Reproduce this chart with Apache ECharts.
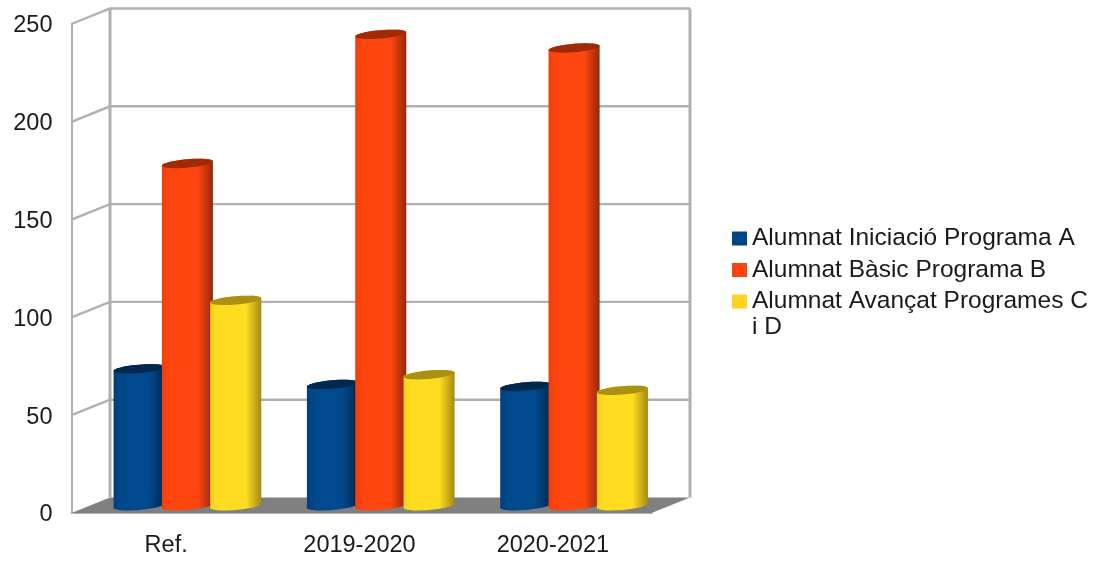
<!DOCTYPE html>
<html><head><meta charset="utf-8">
<style>html,body{margin:0;padding:0;background:#fff}#c{width:1097px;height:561px;filter:blur(.6px)}</style>
<script src="https://cdn.jsdelivr.net/npm/echarts@6/dist/echarts.min.js"></script></head>
<body><div id="c"></div>
<script>
const categories = ['Ref.', '2019-2020', '2020-2021'];
const seriesNames = ['Alumnat Iniciació Programa A', 'Alumnat Bàsic Programa B', 'Alumnat Avançat Programes C i D'];
const valuesA = [70, 62, 61];
const valuesB = [175, 241, 234];
const valuesC = [105, 67, 59];
const ticks = [0, 50, 100, 150, 200, 250];
const colors = ['#004586', '#ff420e', '#ffd320'];
const bodies = ['#00498c', '#ff460f', '#ffdc20'];
const tops = ['#00274d', '#a12a06', '#ac9012'];
const sides = ['#00274d', '#96270a', '#a58a14'];
const lefts = ['#003f7a', '#f23d0c', '#f5d21e'];

const DX = 38.5, DY = -15.5, GRAY = '#b0b0b0';
const font = '"Liberation Sans", Arial, sans-serif';

function ellipsePts(cx, cy, a, b, tilt, from, to, n) {
  const pts = [];
  for (let i = 0; i <= n; i++) {
    const t = from + (to - from) * i / n;
    const x = a * Math.cos(t), y = b * Math.sin(t);
    pts.push([cx + x * Math.cos(tilt) - y * Math.sin(tilt), cy + x * Math.sin(tilt) + y * Math.cos(tilt)]);
  }
  return pts;
}

function cylinder(idx) {
  return function (params, api) {
    const base = api.coord([api.value(0), 0]);
    const top = api.coord([api.value(0), api.value(1)]);
    const catW = api.size([1, 0])[0];
    const w = catW * 0.265, a = w / 2, b = 4.2, tilt = -0.085;
    const cx = base[0] + DX / 2 + (idx - 1) * catW * 0.25;
    const by = base[1] + DY / 2 + 0.5, ty = top[1] + DY / 2 + 0.5;
    const bottomArc = ellipsePts(cx, by, a, b, tilt, 0, Math.PI, 24);
    const topArc = ellipsePts(cx, ty, a, b, tilt, Math.PI, 2 * Math.PI, 24);
    const cap = ellipsePts(cx, ty, a, b, tilt, 0, 2 * Math.PI, 48);
    return {
      type: 'group',
      children: [
        { type: 'polygon', shape: { points: bottomArc.concat(topArc) },
          style: { fill: new echarts.graphic.LinearGradient(0, 0, 1, 0, [
            { offset: 0, color: lefts[idx] },
            { offset: 0.15, color: bodies[idx] },
            { offset: 0.7, color: bodies[idx] },
            { offset: 1, color: sides[idx] }
          ]) } },
        { type: 'polygon', shape: { points: cap }, style: { fill: tops[idx] } }
      ]
    };
  };
}

function wall(params, api) {
  const v = api.value(1);
  const y = api.coord([0, v])[1];
  const cs = params.coordSys;
  const x0 = cs.x, x1 = cs.x + cs.width;
  const children = [];
  if (v === 0) {
    children.push({ type: 'polygon', shape: { points: [[x0, y], [x1, y], [x1 + DX, y + DY], [x0 + DX, y + DY]] },
      style: { fill: '#808080' } });
    const topY = cs.y;
    children.push({ type: 'line', shape: { x1: x0 + DX, y1: topY + DY, x2: x0 + DX, y2: y + DY },
      style: { stroke: GRAY, lineWidth: 3 } });
    children.push({ type: 'line', shape: { x1: x1 + DX, y1: topY + DY, x2: x1 + DX, y2: y + DY },
      style: { stroke: GRAY, lineWidth: 3 } });
  } else {
    children.push({ type: 'polyline', shape: { points: [[x0, y], [x0 + DX, y + DY], [x1 + DX, y + DY]] },
      style: { stroke: GRAY, lineWidth: 2.4, fill: null } });
  }
  return { type: 'group', children };
}

const chart = echarts.init(document.getElementById('c'), null, { renderer: 'canvas' });
const allValues = [valuesA, valuesB, valuesC];
chart.setOption({
  animation: false,
  grid: { left: 71.5, right: 445.5, top: 24, bottom: 48, containLabel: false },
  xAxis: { type: 'category', data: categories, axisTick: { show: false },
    axisLine: { lineStyle: { color: GRAY, width: 2 } },
    axisLabel: { color: '#1a1a1a', fontFamily: font, fontSize: 23.5, margin: 21, padding: [0, 4, 0, 0] } },
  yAxis: { type: 'value', min: 0, max: 250, interval: 50, splitLine: { show: false }, axisTick: { show: false },
    axisLine: { show: true, lineStyle: { color: GRAY, width: 2 } },
    axisLabel: { color: '#1a1a1a', fontFamily: font, fontSize: 23.5, margin: 19, verticalAlign: 'top', padding: [-10, 0, 0, 0] } },
  legend: { left: 732, top: 226, padding: 0, orient: 'vertical', itemWidth: 15, itemHeight: 14, itemGap: 6.5,
    icon: 'rect', data: seriesNames, selectedMode: false,
    formatter: n => n.replace(' i D', ''),
    textStyle: { color: '#1a1a1a', fontFamily: font, fontSize: 24.5 } },
  graphic: [{ type: 'text', left: 752, top: 315,
    style: { text: 'i D', fill: '#1a1a1a', font: '24.5px ' + font } }],
  series: [
    { type: 'custom', name: 'walls', renderItem: wall, data: ticks.map(t => [0, t]), z: 1, clip: false, silent: true }
  ].concat(seriesNames.map((name, i) => ({
    type: 'custom', name, renderItem: cylinder(i), clip: false, z: 3 + i,
    itemStyle: { color: colors[i] },
    data: allValues[i].map((v, c) => [c, v])
  })))
});
</script></body></html>
